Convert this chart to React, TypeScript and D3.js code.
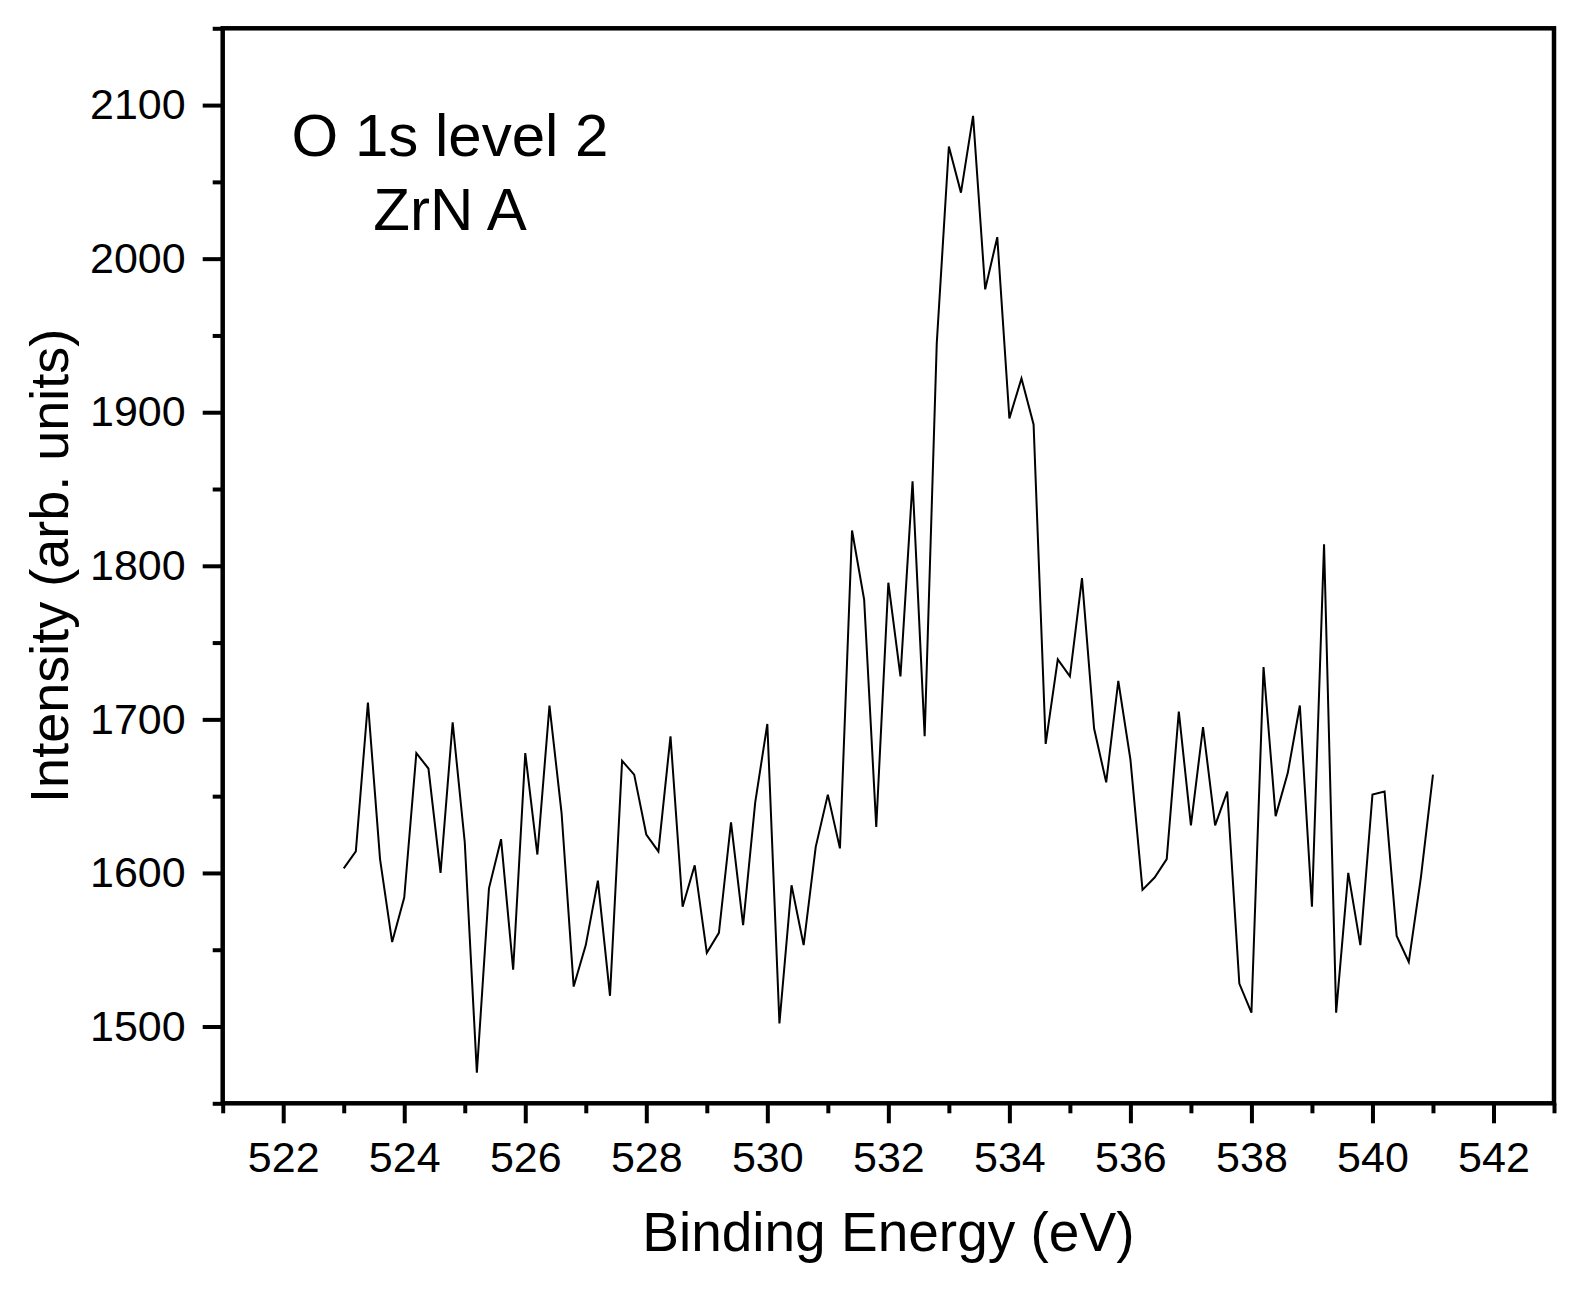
import React, { useEffect, useRef } from 'react';
import * as d3 from 'd3';

// binding energy (eV)
const energies = [
  523.0, 523.2, 523.4, 523.6, 523.8, 524.0, 524.2, 524.4, 524.6, 524.8,
  525.0, 525.2, 525.4, 525.6, 525.8, 526.0, 526.2, 526.4, 526.6, 526.8,
  527.0, 527.2, 527.4, 527.6, 527.8, 528.0, 528.2, 528.4, 528.6, 528.8,
  529.0, 529.2, 529.4, 529.6, 529.8, 530.0, 530.2, 530.4, 530.6, 530.8,
  531.0, 531.2, 531.4, 531.6, 531.8, 532.0, 532.2, 532.4, 532.6, 532.8,
  533.0, 533.2, 533.4, 533.6, 533.8, 534.0, 534.2, 534.4, 534.6, 534.8,
  535.0, 535.2, 535.4, 535.6, 535.8, 536.0, 536.2, 536.4, 536.6, 536.8,
  537.0, 537.2, 537.4, 537.6, 537.8, 538.0, 538.2, 538.4, 538.6, 538.8,
  539.0, 539.2, 539.4, 539.6, 539.8, 540.0, 540.2, 540.4, 540.6, 540.8,
  541.0,
];

// intensity (arb. units)
const intensity = [
  1603, 1614, 1711, 1609, 1555, 1584, 1678, 1668, 1600, 1698,
  1620, 1470, 1590, 1622, 1537, 1678, 1612, 1709, 1639, 1526,
  1553, 1595, 1520, 1673, 1664, 1625, 1614, 1689, 1578, 1605,
  1548, 1561, 1633, 1566, 1646, 1697, 1502, 1592, 1553, 1617,
  1651, 1616, 1823, 1778, 1630, 1789, 1728, 1855, 1689, 1945,
  2073, 2043, 2093, 1980, 2014, 1896, 1922, 1892, 1684, 1739,
  1728, 1792, 1694, 1659, 1725, 1674, 1589, 1597, 1609, 1705,
  1631, 1695, 1631, 1653, 1528, 1509, 1734, 1637, 1665, 1709,
  1578, 1814, 1509, 1600, 1553, 1651, 1653, 1559, 1542, 1597,
  1664,
];

const xMajorTicks = [522, 524, 526, 528, 530, 532, 534, 536, 538, 540, 542];
const xMinorTicks = [521, 523, 525, 527, 529, 531, 533, 535, 537, 539, 541, 543];
const yMajorTicks = [1500, 1600, 1700, 1800, 1900, 2000, 2100];
const yMinorTicks = [1450, 1550, 1650, 1750, 1850, 1950, 2050, 2150];

const annotation = ['O 1s level 2', 'ZrN A'];
const xTitle = 'Binding Energy (eV)';
const yTitle = 'Intensity (arb. units)';

const FONT = '"Liberation Sans", Arial, Helvetica, sans-serif';

const App: React.FC = () => {
  const ref = useRef<SVGSVGElement>(null);

  useEffect(() => {
    document.body.style.margin = '0';
    drawChart();
  }, []);

  const drawChart = () => {
    const width = 1582;
    const height = 1299;
    const margin = { top: 28.3, right: 28, bottom: 195.7, left: 222.7 };
    const innerW = width - margin.left - margin.right;
    const innerH = height - margin.top - margin.bottom;

    const root = d3.select(ref.current);
    root.selectAll('*').remove();
    root.attr('width', width).attr('height', height);

    const svg = root.append('g').attr('transform', `translate(${margin.left},${margin.top})`);

    const x = d3.scaleLinear().domain([521, 543]).range([0, innerW]);
    const y = d3.scaleLinear().domain([1450, 2150]).range([innerH, 0]);

    // minor ticks
    svg.append('g')
      .attr('transform', `translate(0,${innerH})`)
      .call(d3.axisBottom(x).tickValues(xMinorTicks).tickSize(10).tickFormat(() => ''))
      .call(g => g.select('.domain').remove())
      .call(g => g.selectAll('line').attr('stroke-width', 4));

    svg.append('g')
      .call(d3.axisLeft(y).tickValues(yMinorTicks).tickSize(10).tickFormat(() => ''))
      .call(g => g.select('.domain').remove())
      .call(g => g.selectAll('line').attr('stroke-width', 4));

    // major ticks + labels
    svg.append('g')
      .attr('transform', `translate(0,${innerH})`)
      .call(d3.axisBottom(x).tickValues(xMajorTicks).tickSize(20).tickPadding(18).tickFormat(d3.format('d')))
      .call(g => g.select('.domain').remove())
      .call(g => g.selectAll('line').attr('stroke-width', 4))
      .call(g => g.selectAll('text').attr('font-family', FONT).attr('font-size', 43).attr('fill', '#000'));

    svg.append('g')
      .call(d3.axisLeft(y).tickValues(yMajorTicks).tickSize(20).tickPadding(17).tickFormat(d3.format('d')))
      .call(g => g.select('.domain').remove())
      .call(g => g.selectAll('line').attr('stroke-width', 4))
      .call(g => g.selectAll('text').attr('font-family', FONT).attr('font-size', 43).attr('fill', '#000'));

    // frame
    svg.append('rect')
      .attr('x', 0)
      .attr('y', 0)
      .attr('width', innerW)
      .attr('height', innerH)
      .attr('fill', 'none')
      .attr('stroke', '#000')
      .attr('stroke-width', 4.5);

    // spectrum
    const line = d3.line<number>()
      .x((_, i) => x(energies[i]))
      .y(d => y(d));

    svg.append('path')
      .datum(intensity)
      .attr('d', line)
      .attr('fill', 'none')
      .attr('stroke', '#000')
      .attr('stroke-width', 2)
      .attr('stroke-linejoin', 'miter');

    // annotation
    svg.append('g')
      .selectAll('text')
      .data(annotation)
      .enter().append('text')
      .attr('x', 450 - margin.left)
      .attr('y', (d, i) => 156 - margin.top + i * 74)
      .attr('text-anchor', 'middle')
      .attr('font-family', FONT)
      .attr('font-size', 60)
      .attr('fill', '#000')
      .text(d => d);

    // axis titles
    root.append('text')
      .attr('x', margin.left + innerW / 2)
      .attr('y', 1251)
      .attr('text-anchor', 'middle')
      .attr('font-family', FONT)
      .attr('font-size', 55)
      .attr('fill', '#000')
      .text(xTitle);

    root.append('text')
      .attr('transform', `translate(68,${margin.top + innerH / 2}) rotate(-90)`)
      .attr('text-anchor', 'middle')
      .attr('font-family', FONT)
      .attr('font-size', 54)
      .attr('fill', '#000')
      .text(yTitle);
  };

  return (
    <div style={{ width: 1582, height: 1299, background: '#fff' }}>
      <svg ref={ref}></svg>
    </div>
  );
};

export default App;
